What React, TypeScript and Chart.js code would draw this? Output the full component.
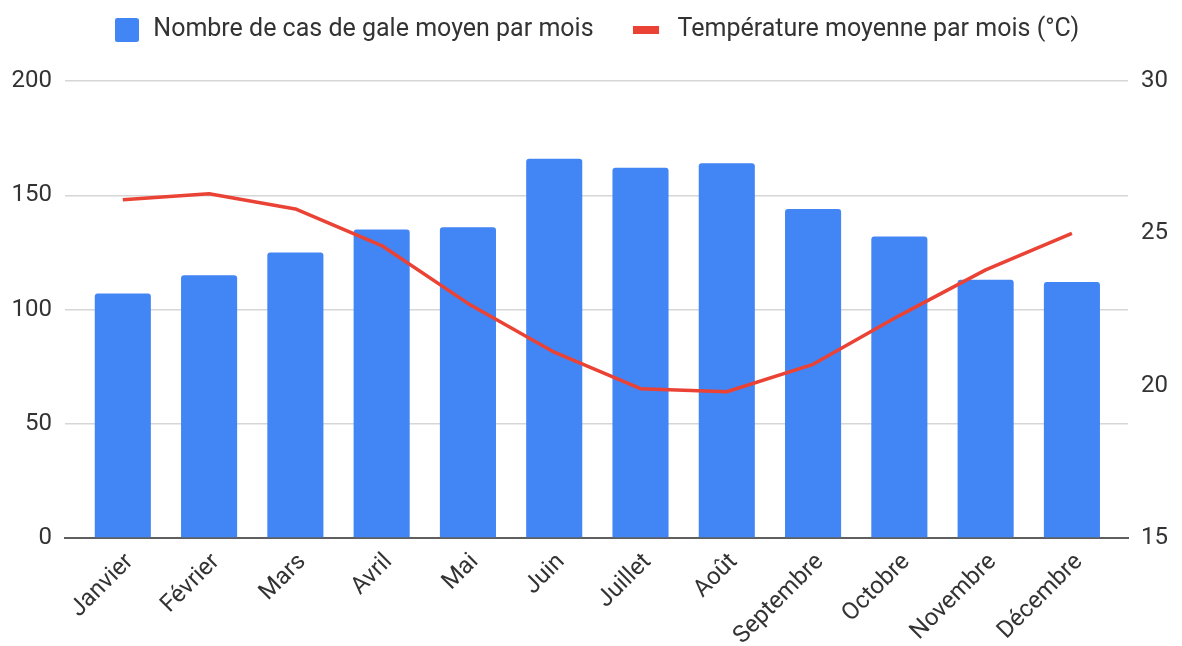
import React, { useEffect, useRef } from 'react';
import { Chart, registerables } from 'chart.js';

Chart.register(...registerables);

// ---- Data ----
const months = ['Janvier', 'Février', 'Mars', 'Avril', 'Mai', 'Juin', 'Juillet', 'Août', 'Septembre', 'Octobre', 'Novembre', 'Décembre'];
const casGale = [107, 115, 125, 135, 136, 166, 162, 164, 144, 132, 113, 112];
const temperature = [26.1, 26.3, 25.8, 24.6, 22.7, 21.1, 19.9, 19.8, 20.7, 22.3, 23.8, 25.0];
const leftTicks = [0, 50, 100, 150, 200];
const rightTicks = [15, 20, 25, 30];
const seriesNames = ['Nombre de cas de gale moyen par mois', 'Température moyenne par mois (°C)'];

// ---- Styles ----
const W = 1182;
const H = 646;
const BLUE = '#4285F4';
const RED = '#EA4335';
const TEXT = '#333333';
const FONT = 'Roboto';
const FONT_SIZE = 24;
const LEGEND_FONT_SIZE = 25;
const LEGEND_H = 81;
const LEGEND_PAD = 43.5;
const LEGEND_DX = 5;
const LEGEND_DY = 30 - LEGEND_PAD - LEGEND_FONT_SIZE / 2;

function makeImg(cw: number, ch: number, draw: (ctx: CanvasRenderingContext2D) => void) {
  const c = document.createElement('canvas');
  c.width = cw;
  c.height = ch;
  const ctx = c.getContext('2d')!;
  draw(ctx);
  return c;
}

export default function App() {
  const ref = useRef<HTMLCanvasElement>(null);

  useEffect(() => {
    if (!ref.current) return;

    const blueImg = makeImg(24, 24, (ctx) => {
      ctx.fillStyle = BLUE;
      ctx.beginPath();
      (ctx as any).roundRect(0, 0, 24, 24, 2.5);
      ctx.fill();
    });
    const redImg = makeImg(36, 8, (ctx) => {
      ctx.fillStyle = RED;
      ctx.fillRect(0, 0, 26, 8);
    });

    const legendTweak = {
      id: 'legendTweak',
      beforeLayout(chart: any) {
        const lg = chart.legend;
        if (lg && !lg.__patched) {
          lg.__patched = true;
          const fit = lg.fit.bind(lg);
          lg.fit = function () {
            fit();
            this.height = LEGEND_H;
          };
          const draw = lg.draw.bind(lg);
          lg.draw = function () {
            const ctx = chart.ctx;
            ctx.save();
            ctx.translate(LEGEND_DX, LEGEND_DY);
            draw();
            ctx.restore();
          };
        }
      },
    };

    const chart = new Chart(ref.current, {
      type: 'bar',
      data: {
        datasets: [
          {
            type: 'bar',
            label: seriesNames[0],
            data: casGale.map((v, i) => ({ x: i, y: v })),
            backgroundColor: BLUE,
            borderRadius: 3,
            borderSkipped: 'start',
            barPercentage: 0.65,
            categoryPercentage: 1,
            yAxisID: 'y',
            order: 1,
          },
          {
            type: 'line',
            label: seriesNames[1],
            data: temperature.map((v, i) => ({ x: i, y: v })),
            borderColor: RED,
            backgroundColor: RED,
            borderWidth: 3.5,
            pointRadius: 0,
            tension: 0,
            borderJoinStyle: 'round',
            yAxisID: 'y1',
            order: 0,
          } as any,
        ],
      },
      options: {
        responsive: false,
        animation: false,
        events: [],
        layout: { padding: 0 },
        plugins: {
          tooltip: { enabled: false },
          legend: {
            display: true,
            position: 'top',
            align: 'center',
            labels: {
              usePointStyle: true,
              pointStyleWidth: 28,
              padding: LEGEND_PAD,
              color: TEXT,
              font: { family: FONT, size: LEGEND_FONT_SIZE },
              generateLabels: () => [
                { text: seriesNames[0], pointStyle: blueImg as any, fillStyle: BLUE, strokeStyle: BLUE, lineWidth: 0, hidden: false, datasetIndex: 0, fontColor: TEXT },
                { text: seriesNames[1], pointStyle: redImg as any, fillStyle: RED, strokeStyle: RED, lineWidth: 0, hidden: false, datasetIndex: 1, fontColor: TEXT },
              ],
            },
          },
        },
        scales: {
          x: {
            type: 'linear',
            min: -0.67,
            max: 11.65,
            offset: false,
            grid: { display: false, drawTicks: false },
            border: { display: true, color: '#5f5f5f', width: 2 },
            afterBuildTicks: (s: any) => {
              s.ticks = months.map((_, i) => ({ value: i }));
            },
            afterFit: (s: any) => {
              s.height = H - 538;
            },
            ticks: {
              autoSkip: false,
              maxRotation: 45,
              minRotation: 45,
              padding: 10,
              labelOffset: 7,
              color: TEXT,
              font: { family: FONT, size: FONT_SIZE },
              callback: (v: any) => months[Math.round(Number(v))],
            },
          },
          y: {
            type: 'linear',
            position: 'left',
            min: leftTicks[0],
            max: leftTicks[leftTicks.length - 1],
            afterBuildTicks: (s: any) => {
              s.ticks = leftTicks.map((v) => ({ value: v }));
            },
            afterFit: (s: any) => {
              s.width = 65;
            },
            grid: { color: '#d6d6d6', lineWidth: 1.5, drawTicks: false },
            border: { display: false },
            ticks: { padding: 13, color: TEXT, font: { family: FONT, size: FONT_SIZE } },
          },
          y1: {
            type: 'linear',
            position: 'right',
            min: rightTicks[0],
            max: rightTicks[rightTicks.length - 1],
            afterBuildTicks: (s: any) => {
              s.ticks = rightTicks.map((v) => ({ value: v }));
            },
            afterFit: (s: any) => {
              s.width = W - 1128;
            },
            grid: { display: false, drawTicks: false },
            border: { display: false },
            ticks: { padding: 13, color: TEXT, font: { family: FONT, size: FONT_SIZE } },
          },
        },
      } as any,
      plugins: [legendTweak],
    });

    return () => chart.destroy();
  }, []);

  return (
    <div style={{ position: 'absolute', left: 0, top: 0, width: W, height: H }}>
      <canvas ref={ref} width={W} height={H} style={{ display: 'block', width: W, height: H }} />
    </div>
  );
}
